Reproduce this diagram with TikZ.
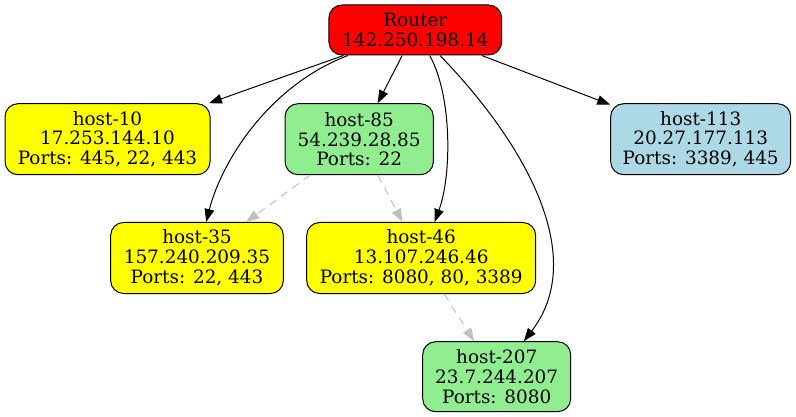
\documentclass[tikz,border=0pt]{standalone}
\usepackage{fontspec}
\setmainfont{DejaVu Serif}
\usetikzlibrary{arrows.meta}
\definecolor{nred}{RGB}{255,0,0}
\definecolor{nyellow}{RGB}{255,255,0}
\definecolor{lgreen}{RGB}{144,238,144}
\definecolor{lblue}{RGB}{173,216,230}
\definecolor{dgray}{RGB}{192,192,192}
\begin{document}
\begin{tikzpicture}[x=1pt,y=-1pt,
  hostbox/.style={draw=black, line width=1pt, rounded corners=13pt, align=center,
    inner sep=0pt, font=\fontsize{18.4}{19.8}\selectfont, minimum height=71pt},
  edgeline/.style={line width=1pt, -{Triangle[length=13pt,width=9.5pt]}},
  dashline/.style={line width=1pt, dgray, dash pattern=on 8pt off 6pt,
    -{Triangle[length=13pt,width=9.5pt]}}]
\useasboundingbox (0,0) rectangle (796,417);
\node[hostbox, fill=nred, minimum width=172.7pt, minimum height=50pt] (router) at (415.3,30) {Router\\142.250.198.14};
\node[hostbox, fill=nyellow, minimum width=205pt] (host10) at (107.5,139.2) {host-10\\17.253.144.10\\Ports: 445, 22, 443};
\node[hostbox, fill=lgreen, minimum width=148.3pt] (host85) at (359.2,139.2) {host-85\\54.239.28.85\\Ports: 22};
\node[hostbox, fill=lblue, minimum width=180pt] (host113) at (700.7,139.2) {host-113\\20.27.177.113\\Ports: 3389, 445};
\node[hostbox, fill=nyellow, minimum width=172.7pt] (host35) at (197,258) {host-35\\157.240.209.35\\Ports: 22, 443};
\node[hostbox, fill=nyellow, minimum width=229pt] (host46) at (421.2,258) {host-46\\13.107.246.46\\Ports: 8080, 80, 3389};
\node[hostbox, fill=lgreen, minimum width=148pt, minimum height=70pt] (host207) at (496.7,376.7) {host-207\\23.7.244.207\\Ports: 8080};

\draw[edgeline] (router) -- (host10);
\draw[edgeline] (router) -- (host85);
\draw[edgeline] (router) -- (host113);
\draw[edgeline] (router) .. controls (270,85) and (222,160) .. (host35);
\draw[edgeline] (router) .. controls (452,95) and (452,175) .. (host46);
\draw[edgeline] (router) .. controls (522,140) and (590,255) .. (host207);

\draw[dashline] (host85) -- (host35);
\draw[dashline] (host85) -- (host46);
\draw[dashline] (host46) -- (host207);
\end{tikzpicture}
\end{document}
